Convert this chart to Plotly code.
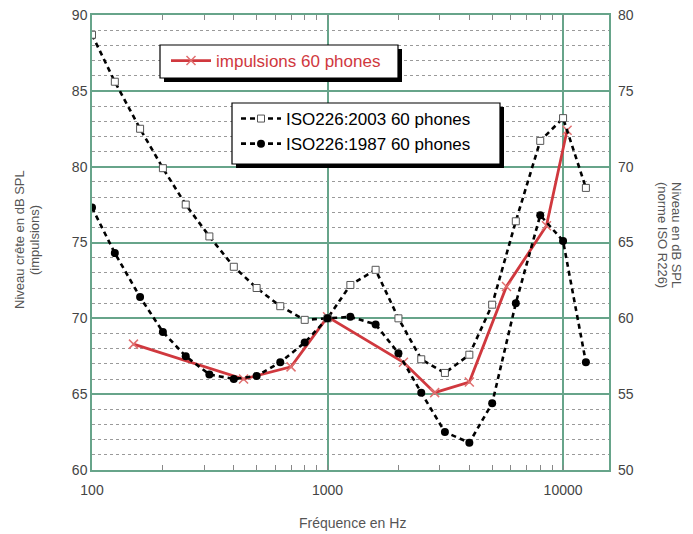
import plotly.graph_objects as go

# Frequencies (Hz) of the ISO 226 equal-loudness points
iso_freq = [100, 125, 160, 200, 250, 315, 400, 500, 630, 800, 1000, 1250,
            1600, 2000, 2500, 3150, 4000, 5000, 6300, 8000, 10000, 12500]
# ISO 226:2003, 60 phon contour (dB SPL, right axis)
iso2003_db = [78.7, 75.6, 72.5, 69.9, 67.5, 65.4, 63.4, 62.0, 60.8, 59.9, 60.0, 62.2,
              63.2, 60.0, 57.3, 56.4, 57.6, 60.9, 66.4, 71.7, 73.2, 68.6]
# ISO 226:1987, 60 phon contour (dB SPL, right axis)
iso1987_db = [67.3, 64.3, 61.4, 59.1, 57.5, 56.3, 56.0, 56.2, 57.1, 58.4, 60.0, 60.1,
              59.6, 57.7, 55.1, 52.5, 51.8, 54.4, 61.0, 66.8, 65.1, 57.1]

# Impulse measurements, 60 phon (peak dB SPL, left axis)
imp_freq = [150, 440, 700, 1000, 2100, 2850, 4000, 5750, 8500, 10400]
imp_db = [68.3, 66.0, 66.8, 70.1, 67.1, 65.1, 65.8, 72.1, 76.1, 82.4]

GREEN = "#67a48a"
RED = "#d0383e"
FONT = "Liberation Sans, Arial, sans-serif"

# plot area in pixels
W, H = 693, 534
ML, MR, MT, MB = 92, 84, 15, 64
PW, PH = W - ML - MR, H - MT - MB


def px(x):
    return (x - ML) / PW


def py(y):
    return (H - MB - y) / PH


fig = go.Figure()

fig.add_trace(go.Scatter(
    x=imp_freq, y=imp_db, name="impulsions 60 phones", mode="lines+markers",
    line=dict(color=RED, width=2.8),
    marker=dict(symbol="x-thin", size=9, line=dict(color="#e07070", width=1.5)),
    legend="legend", yaxis="y",
))
fig.add_trace(go.Scatter(
    x=iso_freq, y=iso2003_db, name="ISO226:2003 60 phones", mode="lines+markers",
    line=dict(color="black", width=2.6, dash="5px,4px"),
    marker=dict(symbol="square", size=7, color="white", line=dict(color="#555", width=1)),
    legend="legend2", yaxis="y2",
))
fig.add_trace(go.Scatter(
    x=iso_freq, y=iso1987_db, name="ISO226:1987 60 phones", mode="lines+markers",
    line=dict(color="black", width=2.6, dash="5px,4px"),
    marker=dict(symbol="circle", size=8, color="black"),
    legend="legend2", yaxis="y2",
))

# legend frames with drop shadows
shapes = []
for (x0, y0, x1, y1) in [(160, 45, 398, 78), (232, 103, 500, 164)]:
    shapes.append(dict(type="rect", xref="paper", yref="paper", layer="above",
                       x0=px(x0 + 4), x1=px(x1 + 4), y0=py(y1 + 4), y1=py(y0 + 4),
                       fillcolor="black", line=dict(width=0)))
    shapes.append(dict(type="rect", xref="paper", yref="paper", layer="above",
                       x0=px(x0), x1=px(x1), y0=py(y1), y1=py(y0),
                       fillcolor="white", line=dict(color="black", width=1.2)))

tickfont = dict(family=FONT, size=14, color="#444")
titlefont = dict(family=FONT, size=13, color="#555")

fig.update_layout(
    width=W, height=H,
    margin=dict(l=ML, r=MR, t=MT, b=MB, autoexpand=False),
    paper_bgcolor="white", plot_bgcolor="white",
    font=dict(family=FONT),
    xaxis=dict(
        type="log", range=[2, 4.195],
        tickvals=[100, 1000, 10000], ticktext=["100", "1000", "10000"],
        showgrid=True, gridcolor=GREEN, gridwidth=1.5,
        showline=True, linecolor=GREEN, linewidth=1.5, mirror="ticks",
        ticks="inside", ticklen=0, tickcolor="#777",
        minor=dict(ticks="inside", ticklen=5, tickcolor="#888", dtick="D1", showgrid=False),
        tickfont=tickfont, ticklabelstandoff=6, automargin=False,
        zeroline=False,
    ),
    yaxis=dict(
        range=[60, 90], dtick=5, tick0=60,
        showgrid=True, gridcolor=GREEN, gridwidth=1.5,
        showline=True, linecolor=GREEN, linewidth=1.5, mirror=True,
        ticks="", tickfont=tickfont, automargin=False,
        minor=dict(dtick=1, showgrid=True, gridcolor="#9a9a9a", griddash="dot",
                   gridwidth=1.2, ticks="inside", ticklen=3, tickcolor="#999"),
        zeroline=False,
    ),
    yaxis2=dict(
        range=[50, 80], dtick=5, tick0=50, overlaying="y", side="right",
        showgrid=False, ticks="", tickfont=tickfont, zeroline=False,
        ticklabelstandoff=8, automargin=False,
    ),
    legend=dict(
        x=px(166), y=py(43), xanchor="left", yanchor="top",
        bgcolor="rgba(0,0,0,0)", borderwidth=0,
        font=dict(family=FONT, size=17, color=RED),
        itemwidth=40,
    ),
    legend2=dict(
        x=px(236), y=py(101), xanchor="left", yanchor="top",
        bgcolor="rgba(0,0,0,0)", borderwidth=0,
        font=dict(family=FONT, size=17, color="black"),
        itemwidth=40, tracegroupgap=0,
    ),
    shapes=shapes,
    annotations=[
        dict(text="Fréquence en Hz", x=px(352), y=py(523), xref="paper", yref="paper",
             xanchor="center", yanchor="middle",
             showarrow=False, font=dict(family=FONT, size=14, color="#555")),
        dict(text="Niveau crête en dB SPL", x=px(19), y=py(240), xref="paper", yref="paper",
             xanchor="center", yanchor="middle",
             textangle=-90, showarrow=False, font=titlefont),
        dict(text="(impulsions)", x=px(34), y=py(240), xref="paper", yref="paper",
             xanchor="center", yanchor="middle",
             textangle=-90, showarrow=False, font=titlefont),
        dict(text="Niveau en dB SPL", x=px(676), y=py(235), xref="paper", yref="paper",
             xanchor="center", yanchor="middle",
             textangle=90, showarrow=False, font=titlefont),
        dict(text="(norme ISO R226)", x=px(662), y=py(235), xref="paper", yref="paper",
             xanchor="center", yanchor="middle",
             textangle=90, showarrow=False, font=titlefont),
    ],
    showlegend=True,
)

fig.write_html("out.html")
